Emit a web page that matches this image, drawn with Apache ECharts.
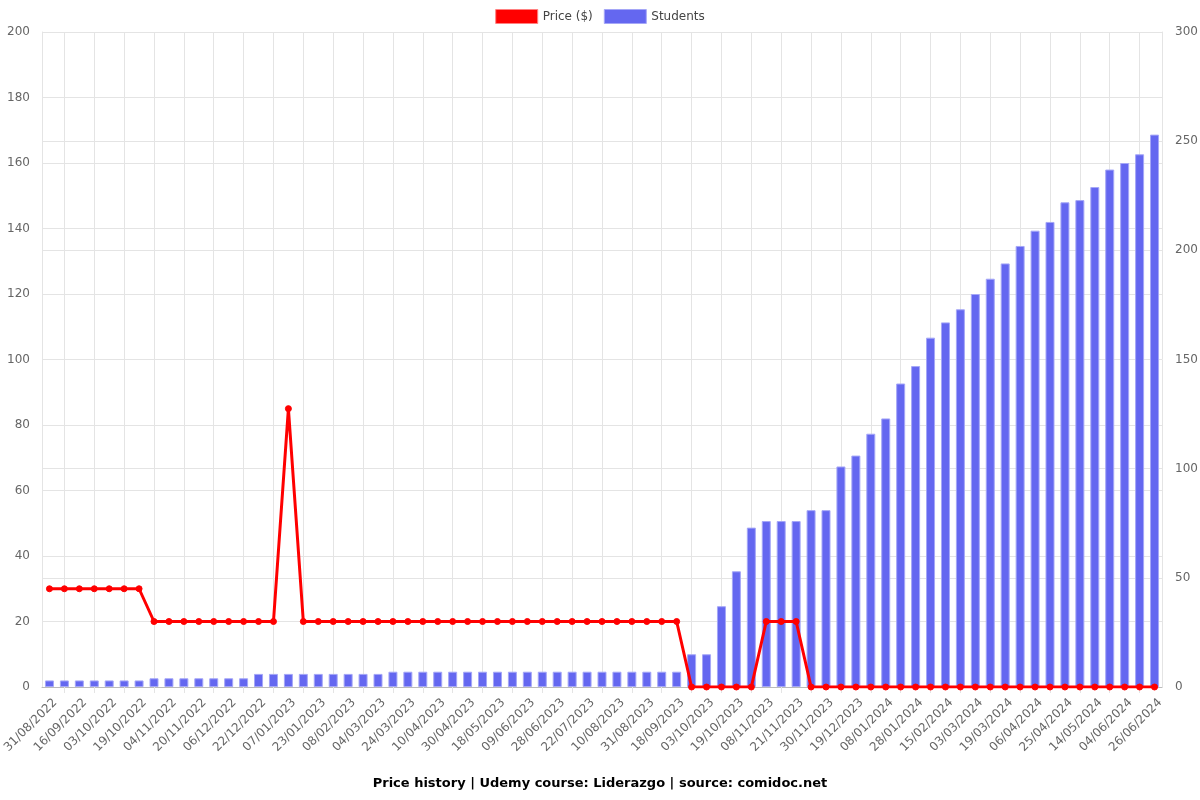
<!DOCTYPE html>
<html>
<head>
<meta charset="utf-8">
<script src="https://cdn.jsdelivr.net/npm/echarts@6/dist/echarts.min.js"></script>
<style>html,body{margin:0;padding:0;background:#fff}#c{width:1200px;height:800px}</style>
</head>
<body>
<div id="c"></div>
<script>
const categories = [
"31/08/2022","08/09/2022","16/09/2022","25/09/2022","03/10/2022","11/10/2022","19/10/2022","27/10/2022",
"04/11/2022","12/11/2022","20/11/2022","28/11/2022","06/12/2022","14/12/2022","22/12/2022","30/12/2022",
"07/01/2023","15/01/2023","23/01/2023","31/01/2023","08/02/2023","20/02/2023","04/03/2023","14/03/2023",
"24/03/2023","01/04/2023","10/04/2023","20/04/2023","30/04/2023","09/05/2023","18/05/2023","29/05/2023",
"09/06/2023","18/06/2023","28/06/2023","10/07/2023","22/07/2023","31/07/2023","10/08/2023","20/08/2023",
"31/08/2023","09/09/2023","18/09/2023","26/09/2023","03/10/2023","11/10/2023","19/10/2023","29/10/2023",
"08/11/2023","14/11/2023","21/11/2023","25/11/2023","30/11/2023","09/12/2023","19/12/2023","29/12/2023",
"08/01/2024","18/01/2024","28/01/2024","06/02/2024","15/02/2024","23/02/2024","03/03/2024","11/03/2024",
"19/03/2024","28/03/2024","06/04/2024","15/04/2024","25/04/2024","04/05/2024","14/05/2024","24/05/2024",
"04/06/2024","15/06/2024","26/06/2024"
];
const price = [
30,30,30,30,30,30,30,20,
20,20,20,20,20,20,20,20,
85,20,20,20,20,20,20,20,
20,20,20,20,20,20,20,20,
20,20,20,20,20,20,20,20,
20,20,20,0,0,0,0,0,
20,20,20,0,0,0,0,0,
0,0,0,0,0,0,0,0,
0,0,0,0,0,0,0,0,
0,0,0
];
const students = [
3,3,3,3,3,3,3,4,
4,4,4,4,4,4,6,6,
6,6,6,6,6,6,6,7,
7,7,7,7,7,7,7,7,
7,7,7,7,7,7,7,7,
7,7,7,15,15,37,53,73,
76,76,76,81,81,101,106,116,
123,139,147,160,167,173,180,187,
194,202,209,213,222,223,229,237,
240,244,253
];
const leftTicks = {min: 0, max: 200, interval: 20};
const rightTicks = {min: 0, max: 300, interval: 50};
const titleText = "Price history | Udemy course: Liderazgo | source: comidoc.net";

const FONT = "DejaVu Sans";
const chart = echarts.init(document.getElementById('c'), null, {renderer: 'canvas'});
const gridColor = '#e4e4e4';
chart.setOption({
  animation: false,
  backgroundColor: '#fff',
  textStyle: {fontFamily: FONT},
  title: {
    text: titleText, left: 'center', top: 772,
    textStyle: {fontFamily: FONT, fontSize: 13, fontWeight: 'bold', color: '#000'}
  },
  legend: {
    top: 4, left: 'center', itemWidth: 42, itemHeight: 14, itemGap: 11,
    textStyle: {fontFamily: FONT, fontSize: 12, color: '#444'},
    data: [
      {name: 'Price ($)', icon: 'rect', itemStyle: {color: '#ff0000', borderColor: '#ff8080', borderWidth: 1}},
      {name: 'Students', icon: 'rect', itemStyle: {color: '#6467f0', borderColor: '#a5a7f7', borderWidth: 1}}
    ]
  },
  grid: {left: 42, right: 38, top: 32, bottom: 113, containLabel: false, outerBoundsMode: 'none'},
  xAxis: {
    type: 'category', data: categories, boundaryGap: true,
    axisLine: {show: true, lineStyle: {color: '#bbb'}},
    axisTick: {show: true, alignWithLabel: true, interval: (i) => i % 2 === 1, length: 6, lineStyle: {color: gridColor}},
    axisLabel: {interval: (i) => i % 2 === 0, rotate: 45, fontFamily: FONT, fontSize: 12, color: '#666', margin: 8,
      verticalAlign: 'top', padding: [2, 0, 0, 0]},
    splitLine: {show: true, alignWithLabel: true, interval: (i) => i % 2 === 1, lineStyle: {color: gridColor, width: 1}}
  },
  yAxis: [
    {
      type: 'value', position: 'left', min: leftTicks.min, max: leftTicks.max, interval: leftTicks.interval,
      axisLine: {show: true, lineStyle: {color: gridColor}},
      axisTick: {show: false},
      axisLabel: {fontFamily: FONT, fontSize: 12, color: '#666', margin: 12},
      splitLine: {show: true, lineStyle: {color: gridColor}}
    },
    {
      type: 'value', position: 'right', min: rightTicks.min, max: rightTicks.max, interval: rightTicks.interval,
      axisLine: {show: true, lineStyle: {color: gridColor}},
      axisTick: {show: false},
      axisLabel: {fontFamily: FONT, fontSize: 12, color: '#666', margin: 13},
      splitLine: {show: true, lineStyle: {color: gridColor}}
    }
  ],
  series: [
    {
      name: 'Price ($)', type: 'line', yAxisIndex: 0, data: price, z: 5,
      symbol: 'circle', symbolSize: 6, showSymbol: true,
      lineStyle: {color: '#ff0000', width: 3},
      itemStyle: {color: '#ff0000', borderColor: '#ff0000'}
    },
    {
      name: 'Students', type: 'bar', yAxisIndex: 1, data: students, z: 2,
      barWidth: 9,
      itemStyle: {color: '#6467f0', borderColor: '#a5a7f7', borderWidth: 1}
    }
  ]
});
</script>
</body>
</html>
